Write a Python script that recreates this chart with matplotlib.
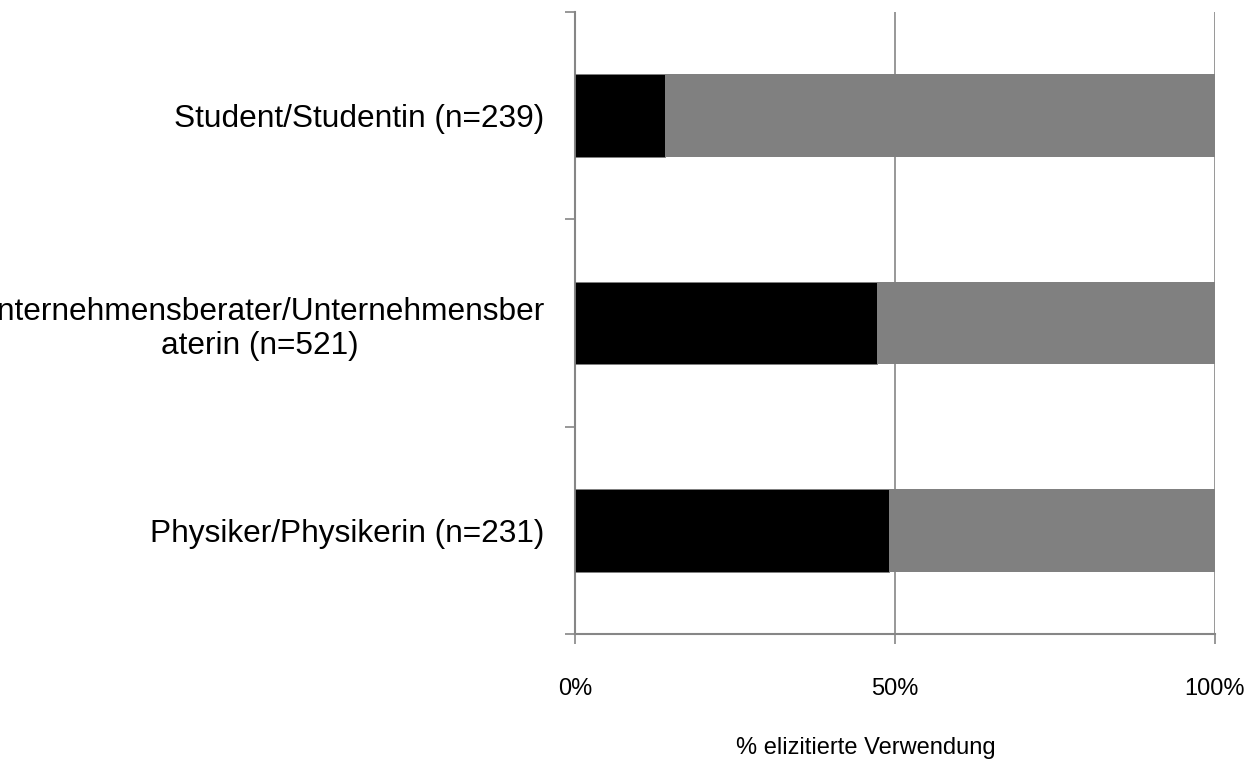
import numpy as np
import matplotlib
matplotlib.use("Agg")
import matplotlib.pyplot as plt

plt.rcParams['font.family'] = ['Liberation Sans', 'DejaVu Sans']

# Berufsgruppen, von unten nach oben
kategorien = ["Physiker/Physikerin (n=231)",
              "Unternehmensberater/Unternehmensber\naterin (n=521)",
              "Student/Studentin (n=239)"]
anteil_schwarz = [49.1, 47.2, 14.1]
anteil_grau = [50.9, 52.8, 85.9]
xticks = [0, 50, 100]
xtick_labels = ["0%", "50%", "100%"]

achsengrau = '#868686'

fig = plt.figure(figsize=(12.58, 7.65), dpi=100)
ax = fig.add_axes([575/1258, 1 - 634/765, 640/1258, 622/765])

y = np.arange(len(kategorien))
ax.barh(y, anteil_schwarz, height=0.4, color='black', edgecolor='#808080', linewidth=0.6, zorder=3)
ax.barh(y, anteil_grau, left=anteil_schwarz, height=0.4, color='#808080', zorder=3)

ax.set_xlim(0, 100)
ax.set_ylim(-0.5, len(kategorien) - 0.5)

for s in ['top', 'right']:
    ax.spines[s].set_visible(False)
for s in ['left', 'bottom']:
    ax.spines[s].set_color(achsengrau)
    ax.spines[s].set_linewidth(1.5)

# vertikale Gitterlinien bei 50% und 100%
for xv in xticks[1:]:
    ax.axvline(xv, color=achsengrau, linewidth=1.2, zorder=1)

ax.set_xticks(xticks)
ax.set_xticklabels(xtick_labels, fontsize=17)
ax.tick_params(axis='x', length=7, width=1.2, color=achsengrau, pad=25)

ax.set_yticks(y)
ax.set_yticklabels(kategorien, fontsize=22.8, multialignment='center')
ax.tick_params(axis='y', which='major', length=0, pad=22)
ax.set_yticks(np.arange(-0.5, len(kategorien)), minor=True)
ax.tick_params(axis='y', which='minor', length=7, width=1.2, color=achsengrau)

fig.text(866/1258, 1 - 748/765, "% elizitierte Verwendung", fontsize=17,
         ha='center', va='center')

fig.savefig("out.png", dpi=100)
